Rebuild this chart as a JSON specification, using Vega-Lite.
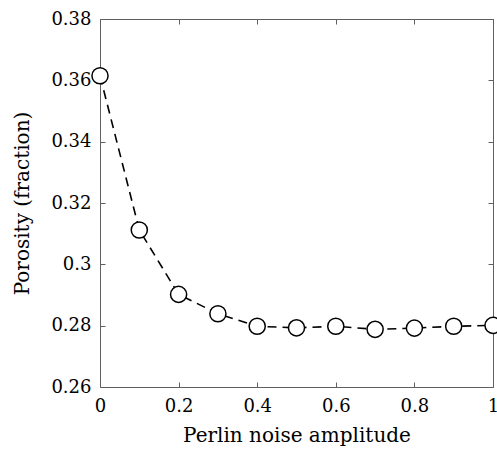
{
  "$schema": "https://vega.github.io/schema/vega-lite/v6.json",
  "width": 393,
  "height": 368,
  "autosize": {"type": "none"},
  "padding": {"left": 100, "top": 19, "right": 4, "bottom": 62},
  "background": "white",
  "config": {
    "font": "DejaVu Serif",
    "view": {"stroke": null},
    "axis": {
      "grid": false,
      "domainColor": "#606060",
      "tickColor": "#606060",
      "domainWidth": 1,
      "tickWidth": 1,
      "tickSize": -5,
      "labelFont": "DejaVu Serif",
      "titleFont": "DejaVu Serif",
      "labelFontSize": 18,
      "titleFontSize": 20,
      "labelColor": "black",
      "titleColor": "black",
      "titleFontWeight": "normal"
    }
  },
  "data": {"values": [
    {"amp": 0.0, "por": 0.3615},
    {"amp": 0.1, "por": 0.3112},
    {"amp": 0.2, "por": 0.2902},
    {"amp": 0.3, "por": 0.2839},
    {"amp": 0.4, "por": 0.2798},
    {"amp": 0.5, "por": 0.2793},
    {"amp": 0.6, "por": 0.2798},
    {"amp": 0.7, "por": 0.2788},
    {"amp": 0.8, "por": 0.2792},
    {"amp": 0.9, "por": 0.2798},
    {"amp": 1.0, "por": 0.2801}
  ]},
  "encoding": {
    "x": {"field": "amp", "type": "quantitative", "scale": {"domain": [0, 1], "nice": false, "zero": false}},
    "y": {"field": "por", "type": "quantitative", "scale": {"domain": [0.26, 0.38], "nice": false, "zero": false}}
  },
  "resolve": {"axis": {"x": "independent", "y": "independent"}},
  "layer": [
    {
      "mark": {"type": "line", "color": "black", "strokeWidth": 1.6, "strokeDash": [9, 6]},
      "encoding": {
        "x": {"field": "amp", "type": "quantitative", "axis": {"title": "Perlin noise amplitude", "orient": "bottom", "values": [0, 0.2, 0.4, 0.6, 0.8, 1], "labelPadding": 15, "titlePadding": 10, "labelFlush": false, "labelExpr": "datum.value == 0 ? '0' : datum.value == 1 ? '1' : format(datum.value, '.1f')"}},
        "y": {"field": "por", "type": "quantitative", "axis": {"title": "Porosity (fraction)", "orient": "left", "values": [0.26, 0.28, 0.3, 0.32, 0.34, 0.36, 0.38], "labelPadding": 14, "titlePadding": 18, "labelFlush": false, "labelExpr": "datum.value == 0.3 ? '0.3' : format(datum.value, '.2f')"}}
      }
    },
    {
      "mark": {"type": "point", "shape": "circle", "filled": true, "fill": "white", "stroke": "black", "strokeWidth": 1.5, "size": 260, "opacity": 1},
      "encoding": {
        "x": {"field": "amp", "type": "quantitative", "axis": {"orient": "top", "title": null, "labels": false, "values": [0, 0.2, 0.4, 0.6, 0.8, 1]}},
        "y": {"field": "por", "type": "quantitative", "axis": {"orient": "right", "title": null, "labels": false, "values": [0.26, 0.28, 0.3, 0.32, 0.34, 0.36, 0.38]}}
      }
    }
  ]
}
